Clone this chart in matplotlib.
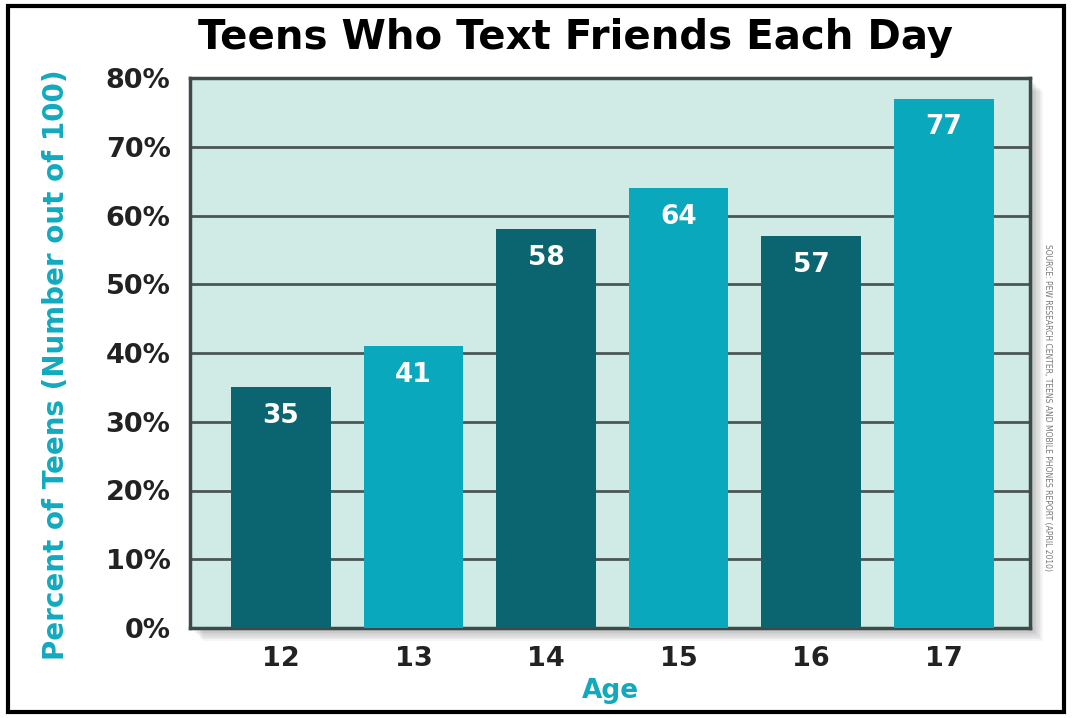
import numpy as np
import matplotlib
matplotlib.use("Agg")
from matplotlib import pyplot as plt
from matplotlib.patches import Rectangle

ages = ["12", "13", "14", "15", "16", "17"]
percents = [35, 41, 58, 64, 57, 77]
bar_colors = ["#0b6570", "#0aa8bc", "#0b6570", "#0aa8bc", "#0b6570", "#0aa8bc"]
yticks = [0, 10, 20, 30, 40, 50, 60, 70, 80]
ytick_labels = ["0%", "10%", "20%", "30%", "40%", "50%", "60%", "70%", "80%"]

fig = plt.figure(figsize=(10.72, 7.18), dpi=100)

# outer black frame
fig.patches.append(Rectangle((8/1072, 6/718), 1056/1072, 706/718, transform=fig.transFigure,
                             fill=False, edgecolor="black", linewidth=3, zorder=-5))

l, b, w, h = 190/1072, 1-628/718, 840/1072, 550/718
# soft drop shadow right/bottom of plot panel
for i in range(8):
    off = (i + 1) * 1.6
    fig.patches.append(Rectangle((l + off/1072, b - off/718), w, h, transform=fig.transFigure,
                                 facecolor="#555555", edgecolor="none", alpha=0.06, zorder=-5))

ax = fig.add_axes([l, b, w, h])
ax.set_zorder(2)
ax.set_facecolor("#d0ebe6")
x = np.arange(len(ages))
ax.bar(x, percents, width=0.75, color=bar_colors, zorder=3)
for xi, v in zip(x, percents):
    ax.text(xi, v - 4.2, str(v), ha="center", va="center", color="white",
            fontsize=19, fontweight="bold", zorder=4)

ax.set_xlim(-0.685, 5.65)
ax.set_ylim(0, 80)
ax.set_yticks(yticks)
ax.set_yticklabels(ytick_labels)
ax.set_xticks(x)
ax.set_xticklabels(ages)
ax.yaxis.grid(True, color="#4b5656", linewidth=2, zorder=1)
ax.set_axisbelow(True)
ax.tick_params(length=0, pad=14, labelsize=19.5, labelcolor="#222222")
for lbl in ax.get_xticklabels() + ax.get_yticklabels():
    lbl.set_fontweight("bold")
ax.tick_params(axis="x", pad=13)
for s in ax.spines.values():
    s.set_color("#3e4a4a")
    s.set_linewidth(2.5)

ax.set_ylabel("Percent of Teens (Number out of 100)", color="#12a9be", fontsize=20,
              fontweight="bold")
ax.yaxis.set_label_coords(-0.143, 0.478)
ax.set_xlabel("Age", color="#12a9be", fontsize=19, fontweight="bold", labelpad=4)
fig.text(0.537, 0.947, "Teens Who Text Friends Each Day", ha="center", va="center",
         fontsize=29, fontweight="heavy", color="black")
fig.text(1047/1072, 1-408/718,
         "SOURCE: PEW RESEARCH CENTER, TEENS AND MOBILE PHONES REPORT (APRIL 2010)",
         rotation=-90, ha="center", va="center", fontsize=5.5, color="#777777")

fig.savefig("out.png", dpi=100)
